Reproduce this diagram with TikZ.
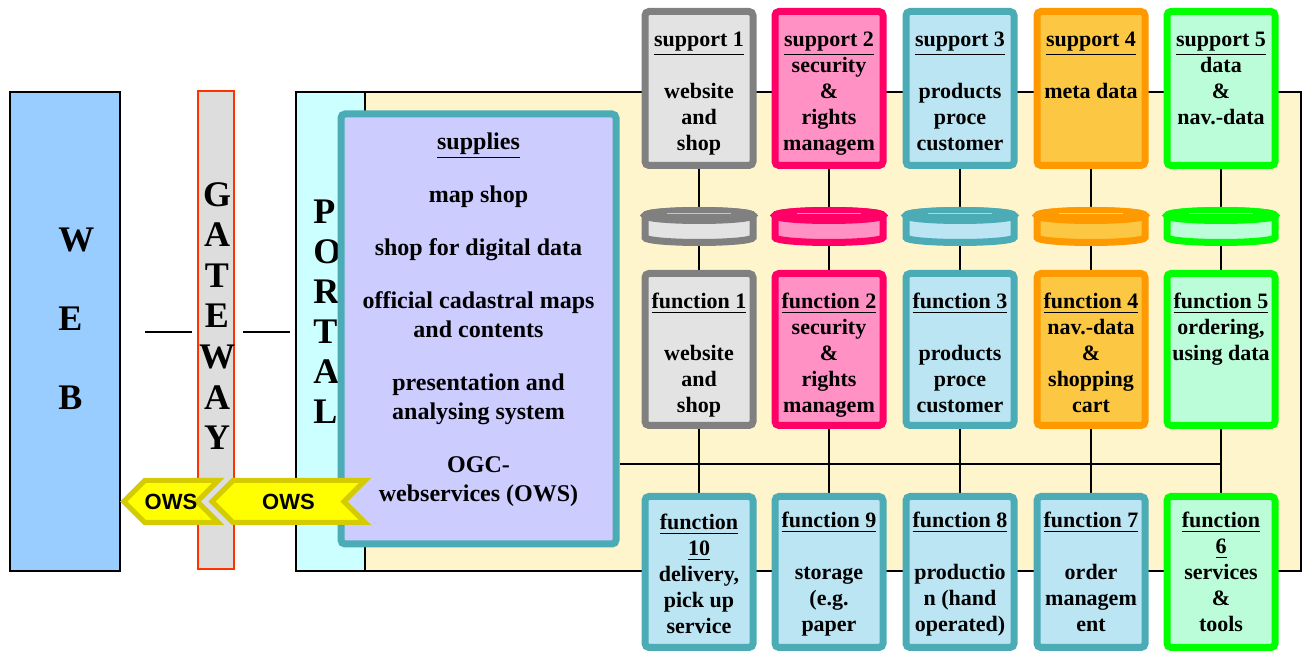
\documentclass[tikz,border=0pt]{standalone}
\usepackage{fontspec}
\setmainfont{Liberation Serif}
\newfontfamily\owsfont{Liberation Sans}
\usetikzlibrary{positioning, shapes.symbols, backgrounds}

\definecolor{webblue}{HTML}{99CCFF}
\definecolor{gwfill}{HTML}{DDDDDD}
\definecolor{gwborder}{HTML}{FF3300}
\definecolor{portalcyan}{HTML}{CCFFFF}
\definecolor{bgyellow}{HTML}{FFF5CC}
\definecolor{supfill}{HTML}{CCCCFF}
\definecolor{grayborder}{HTML}{808080}
\definecolor{grayfill}{HTML}{E3E3E3}
\definecolor{pinkborder}{HTML}{FF0066}
\definecolor{pinkfill}{HTML}{FF91C4}
\definecolor{tealborder}{HTML}{4BACB6}
\definecolor{tealfill}{HTML}{BBE5F3}
\definecolor{orangeborder}{HTML}{FF9900}
\definecolor{orangefill}{HTML}{FCC844}
\definecolor{greenborder}{HTML}{00FF00}
\definecolor{greenfill}{HTML}{BBFDD8}
\definecolor{owsyellow}{HTML}{FFFF00}
\definecolor{owsborder}{HTML}{D4CC00}

\begin{document}
\begin{tikzpicture}[
    x=0.5pt, y=-0.5pt,
    font=\bfseries,
    bar/.style={draw, line width=1pt, inner sep=0pt},
    colbox/.style={
        draw=#1border, fill=#1fill, line width=3.5pt, rounded corners=2pt,
        minimum width=54pt, inner sep=0pt,
    },
    diskslot/.style={inner sep=0pt, minimum width=58pt, minimum height=19pt},
    disk/.style={draw=#1border, fill=#1fill, line width=3.5pt},
    coltext/.style={align=center, inner sep=0pt, font=\bfseries\fontsize{11}{13}\selectfont},
    bigletters/.style={inner sep=0pt, font=\bfseries\fontsize{18}{#1}\selectfont},
    owsflag/.style={
        signal, signal to=west, signal from=east,
        draw=owsborder, fill=owsyellow, line width=2.5pt,
        minimum height=21pt, inner sep=0pt,
        font=\owsfont\bfseries\fontsize{11}{13}\selectfont,
    },
    wire/.style={line width=1pt},
]
\useasboundingbox (0,0) rectangle (1303,651);

\def\colA{699}
\def\colB{829}
\def\colC{960}
\def\colD{1091}
\def\colE{1221}

% web, gateway, portal
\node[bar, fill=webblue, minimum width=55pt, minimum height=239.5pt] (web) at (65,332) {};
\node[bigletters=39.5pt, align=left, anchor=west] (webtxt) at (58,319) {W\\E\\B};
\node[bar, draw=gwborder, fill=gwfill, minimum width=18pt, minimum height=239pt] (gw) at (216,330) {};
\node[bigletters=20.3pt, align=center] (gwtxt) at (217,316) {G\\A\\T\\E\\W\\A\\Y};
\node[bar, fill=portalcyan, minimum width=34.5pt, minimum height=239.5pt] (portal) at (330,332) {};
\node[bigletters=20pt, align=left, anchor=west] (portaltxt) at (313,312) {P\\O\\R\\T\\A\\L};

\draw[wire, shorten <=12pt, shorten >=2.5pt] (web.east) -- (web.east -| gw.west);
\draw[wire, shorten <=4pt, shorten >=2.5pt] (gw.east |- web.east) -- (web.east -| portal.west);

% supplies
\node[colbox=teal, fill=supfill, minimum width=137.5pt, minimum height=215pt] (sup) at (478.5,329) {};
\node[align=center, inner sep=0pt, font=\bfseries\fontsize{12}{14.5}\selectfont, below=11pt of sup.north] (suptxt) {
    \underline{supplies}\\[12pt]
    map shop\\[12pt]
    shop for digital data\\[12pt]
    official cadastral maps\\and contents\\[12pt]
    presentation and\\analysing system\\[12pt]
    OGC-\\webservices (OWS)
};

% support row
\node[colbox=gray, minimum height=77pt] (s1) at (\colA,88.5) {};
\node[colbox=pink, minimum height=77pt] (s2) at (\colB,88.5) {};
\node[colbox=teal, minimum height=77pt] (s3) at (\colC,88.5) {};
\node[colbox=orange, minimum height=77pt] (s4) at (\colD,88.5) {};
\node[colbox=green, minimum height=77pt] (s5) at (\colE,88.5) {};

\node[coltext, below=12pt of s1.north] {\underline{support 1}\\[13pt]website\\and\\shop};
\node[coltext, below=12pt of s2.north] {\underline{support 2}\\security\\\&\\rights\\managem};
\node[coltext, below=12pt of s3.north] {\underline{support 3}\\[13pt]products\\proce\\customer};
\node[coltext, below=12pt of s4.north] {\underline{support 4}\\[13pt]meta data};
\node[coltext, below=12pt of s5.north] {\underline{support 5}\\data\\\&\\nav.-data};

% disks
\foreach \n/\x/\c in {1/\colA/gray, 2/\colB/pink, 3/\colC/teal, 4/\colD/orange, 5/\colE/green} {
    \node[diskslot] (c\n) at (\x,226.5) {};
    \draw[disk=\c] ([shift={(-27pt,5.5pt)}]c\n.center)
        arc[start angle=180, end angle=0, x radius=27pt, y radius=2.5pt] -- ++(0,-11pt)
        arc[start angle=0, end angle=-180, x radius=27pt, y radius=2.5pt] -- cycle;
    \draw[disk=\c, fill=\c border] ([yshift=5.5pt]c\n.center) ellipse[x radius=27pt, y radius=2.5pt];
    \draw[line width=0.8pt, white, opacity=0.55] ([shift={(-16pt,6.5pt)}]c\n.center) -- ([shift={(16pt,6.5pt)}]c\n.center);
}

% function rows
\node[colbox=gray, minimum height=76pt] (f1) at (\colA,349.5) {};
\node[colbox=pink, minimum height=76pt] (f2) at (\colB,349.5) {};
\node[colbox=teal, minimum height=76pt] (f3) at (\colC,349.5) {};
\node[colbox=orange, minimum height=76pt] (f4) at (\colD,349.5) {};
\node[colbox=green, minimum height=76pt] (f5) at (\colE,349.5) {};

\node[coltext, below=11.5pt of f1.north] {\underline{function 1}\\[13pt]website\\and\\shop};
\node[coltext, below=11.5pt of f2.north] {\underline{function 2}\\security\\\&\\rights\\managem};
\node[coltext, below=11.5pt of f3.north] {\underline{function 3}\\[13pt]products\\proce\\customer};
\node[coltext, below=11.5pt of f4.north] {\underline{function 4}\\nav.-data\\\&\\shopping\\cart};
\node[coltext, below=11.5pt of f5.north] {\underline{function 5}\\ordering,\\using data};

\node[colbox=teal, minimum height=75.5pt] (f10) at (\colA,572) {};
\node[colbox=teal, minimum height=75.5pt] (f9) at (\colB,572) {};
\node[colbox=teal, minimum height=75.5pt] (f8) at (\colC,572) {};
\node[colbox=teal, minimum height=75.5pt] (f7) at (\colD,572) {};
\node[colbox=green, minimum height=75.5pt] (f6) at (\colE,572) {};

\node[coltext, below=10.5pt of f10.north] {\underline{function}\\\underline{10}\\delivery,\\pick up\\service};
\node[coltext, below=9.5pt of f9.north] {\underline{function 9}\\[13pt]storage\\(e.g.\\paper};
\node[coltext, below=9.5pt of f8.north] {\underline{function 8}\\[13pt]productio\\n (hand\\operated)};
\node[coltext, below=9.5pt of f7.north] {\underline{function 7}\\[13pt]order\\managem\\ent};
\node[coltext, below=9.5pt of f6.north] {\underline{function}\\\underline{6}\\services\\\&\\tools};

% yellow area and wiring behind the boxes
\coordinate (jn) at (\colE,464);
\begin{scope}[on background layer]
    \node[bar, fill=bgyellow, minimum width=468pt, minimum height=239.5pt] (bg) at (833,332) {};
    \foreach \n in {1,...,5}
        \draw[wire] (s\n) -- (c\n) -- (f\n);
    \draw[wire] (f1) -- (f10);
    \draw[wire] (f2) -- (f9);
    \draw[wire] (f3) -- (f8);
    \draw[wire] (f4) -- (f7);
    \draw[wire] (f5) -- (f6);
    \draw[wire] (sup.east |- jn) -- (jn);
\end{scope}

% OWS flags
\node[owsflag, minimum width=46.75pt] (ows1) at (171,501.5) {OWS};
\node[owsflag, minimum width=76.5pt] (ows2) at (288.5,501.5) {OWS};

\end{tikzpicture}
\end{document}
